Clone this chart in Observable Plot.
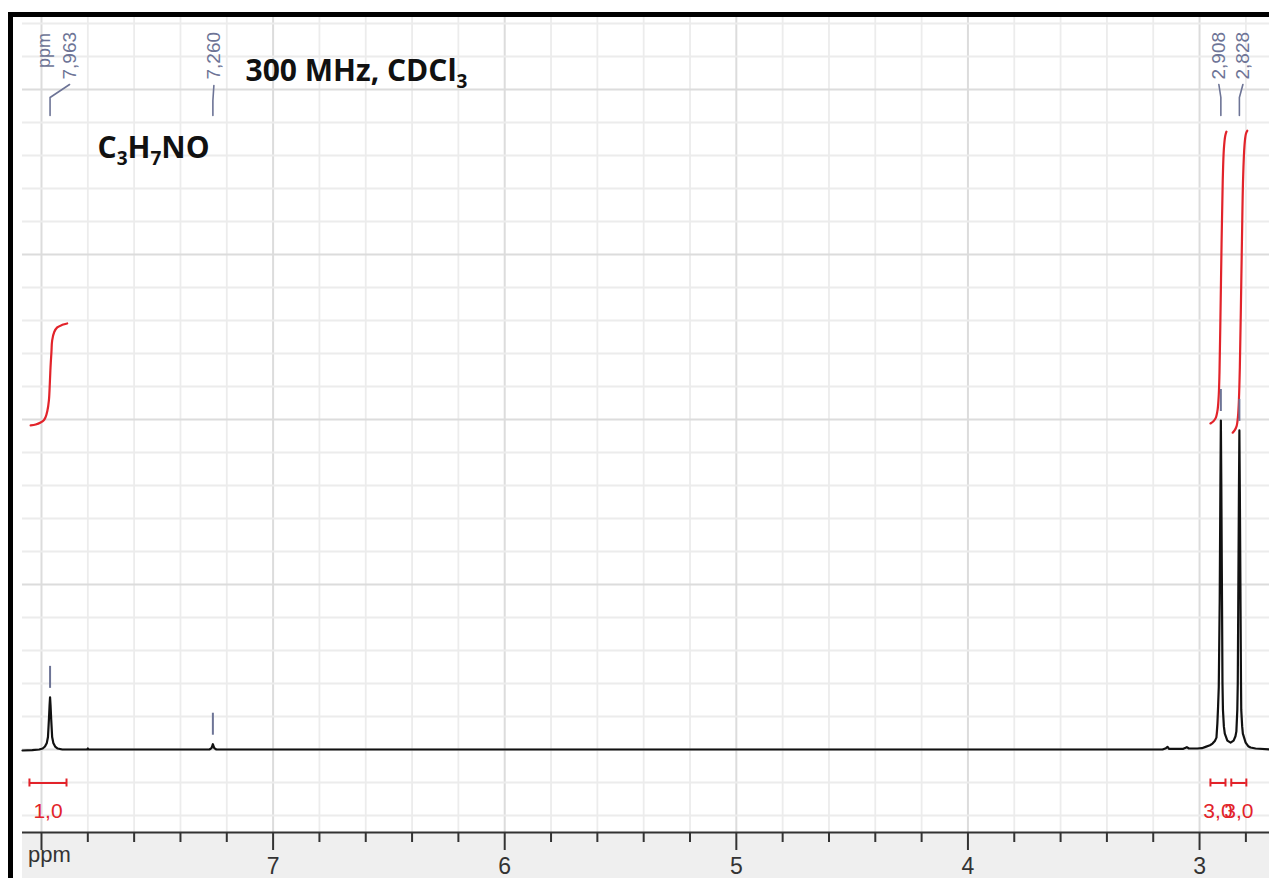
<!DOCTYPE html>
<html>
<head>
<meta charset="utf-8">
<script src="https://cdn.jsdelivr.net/npm/d3@7"></script>
<script src="https://cdn.jsdelivr.net/npm/@observablehq/plot@0.6"></script>
<style>
html, body { margin: 0; padding: 0; background: #fff; overflow: hidden; }
#wrap { position: relative; width: 1269px; height: 878px; overflow: hidden; }
#band { position: absolute; left: 22px; top: 832px; width: 1247px; height: 46px; background: #efefef; }
#chart { position: absolute; left: 0; top: 0; }
#frame { position: absolute; left: 8px; top: 12px; width: 1400px; height: 1000px;
  border-left: 5px solid #000; border-top: 5px solid #000; pointer-events: none; }
</style>
</head>
<body>
<div id="wrap"><div id="band"></div><div id="chart"></div><div id="frame"></div></div>
<script>
// ---------------- data ----------------
// spectrum: chemical shift (ppm) and intensity (grid units above baseline)
const spectrumPpm = [8.082, 8.040, 8.010, 7.995, 7.985, 7.977, 7.972, 7.968, 7.965, 7.963, 7.961, 7.958, 7.954, 7.949, 7.941, 7.930, 7.910,
  7.803, 7.800, 7.797,
  7.275, 7.266, 7.262, 7.260, 7.258, 7.254, 7.245,
  3.160, 3.145, 3.138, 3.132, 3.070, 3.055, 3.046, 3.010, 2.990, 2.974, 2.955, 2.944, 2.934, 2.927, 2.923, 2.920, 2.917, 2.913, 2.910,
  2.908, 2.906, 2.903, 2.901, 2.899, 2.895, 2.891, 2.880, 2.866, 2.853, 2.845, 2.841, 2.837, 2.835, 2.833, 2.830,
  2.828, 2.826, 2.823, 2.821, 2.820, 2.816, 2.813, 2.801, 2.790, 2.780, 2.758, 2.698];
const spectrumIntensity = [-0.03, -0.02, 0.0, 0.03, 0.09, 0.2, 0.38, 0.9, 1.35, 1.58, 1.35, 0.9, 0.38, 0.2, 0.09, 0.03, 0.0,
  0.0, 0.03, 0.0,
  0.0, 0.04, 0.12, 0.16, 0.12, 0.04, 0.0,
  0.0, 0.04, 0.08, 0.02, 0.02, 0.07, 0.03, 0.03, 0.04, 0.08, 0.13, 0.18, 0.26, 0.36, 0.8, 1.3, 1.9, 4.5, 8.0,
  9.97, 8.0, 4.5, 2.0, 1.2, 0.7, 0.48, 0.27, 0.21, 0.27, 0.4, 0.55, 1.2, 2.0, 4.3, 7.8,
  9.67, 7.8, 4.3, 2.0, 1.2, 0.7, 0.48, 0.21, 0.1, 0.06, 0.03, 0.0];

// picked peaks
const peakPpm = [7.963, 7.260, 2.908, 2.828];
const peakLabels = ["7,963", "7,260", "2,908", "2,828"];
const peakHeight = [1.58, 0.16, 9.97, 9.67];

// integration curves
const integralAPpm = [8.047, 8.025, 8.004, 7.990, 7.983, 7.975, 7.968, 7.964, 7.961, 7.957, 7.954, 7.945, 7.932, 7.910, 7.889];
const integralAValue = [9.82, 9.85, 9.91, 9.98, 10.06, 10.25, 10.58, 11.1, 11.58, 12.05, 12.39, 12.65, 12.79, 12.87, 12.91];
const integralBPpm = [2.953, 2.940, 2.930, 2.922, 2.917, 2.914, 2.910, 2.905, 2.900, 2.895, 2.889, 2.884];
const integralBValue = [9.88, 9.95, 10.05, 10.3, 10.75, 11.4, 13.0, 15.3, 17.2, 18.2, 18.6, 18.72];
const integralCPpm = [2.857, 2.848, 2.840, 2.834, 2.830, 2.826, 2.822, 2.817, 2.812, 2.806, 2.800, 2.794];
const integralCValue = [9.6, 9.68, 9.8, 10.1, 10.6, 11.6, 13.2, 15.4, 17.3, 18.3, 18.65, 18.75];

// integration ranges and values
const rangeFrom = [8.052, 2.953, 2.863];
const rangeTo = [7.892, 2.888, 2.798];
const rangeValues = ["1,0", "3,0", "3,0"];

// axis ticks and grid
const majorTicks = [8, 7, 6, 5, 4, 3];
const minorTicks = [7.8, 7.6, 7.4, 7.2, 6.8, 6.6, 6.4, 6.2, 5.8, 5.6, 5.4, 5.2, 4.8, 4.6, 4.4, 4.2, 3.8, 3.6, 3.4, 3.2, 2.8];
const gridRowsMinor = [-2, -1, 1, 2, 3, 4, 6, 7, 8, 9, 11, 12, 13, 14, 16, 17, 18, 19, 21, 22];
const gridRowsMajor = [0, 5, 10, 15, 20];

const titleText = "300 MHz, CDCl_3";
const formulaText = "C_3H_7NO";

// ---------------- layout ----------------
const W = 1269, H = 878;
const X0 = 8.082, X1 = 2.698;          // ppm at left / right plot edges
const plotLeft = 22;
const ppmPerPx = (X0 - X1) / (W - plotLeft);
const baselinePx = 749, unitPx = 33;
const Y0 = -(832 - baselinePx) / unitPx, Y1 = (baselinePx - 16) / unitPx;
const px2ppm = px => X0 - (px - plotLeft) * ppmPerPx;
const py2y = py => (baselinePx - py) / unitPx;

const red = "#e2232a", slate = "#6d7496";

const spectrum = spectrumPpm.map((p, i) => ({ppm: p, v: spectrumIntensity[i]}));
const peaks = peakPpm.map((p, i) => ({ppm: p, label: peakLabels[i], h: peakHeight[i]}));
const integrals = [
  ...integralAPpm.map((p, i) => ({g: "A", ppm: p, v: integralAValue[i]})),
  ...integralBPpm.map((p, i) => ({g: "B", ppm: p, v: integralBValue[i]})),
  ...integralCPpm.map((p, i) => ({g: "C", ppm: p, v: integralCValue[i]}))
];
const ranges = rangeFrom.map((f, i) => ({from: f, to: rangeTo[i], label: rangeValues[i]}));

// label offsets (px) of the rotated peak labels relative to their peaks
const labelShiftPx = [19.5, 1, -2, 3.5];
const leaders = [];
peaks.forEach((d, i) => {
  const lx = d.ppm - labelShiftPx[i] * ppmPerPx;
  leaders.push({k: i, ppm: d.ppm, y: py2y(115)});
  leaders.push({k: i, ppm: d.ppm, y: py2y(i === 1 ? 100 : 97)});
  leaders.push({k: i, ppm: lx, y: py2y(i === 1 ? 85 : 84)});
  d.lx = lx;
});
const barY = py2y(782.5);
const capH = 4 / unitPx;

const chart = Plot.plot({
  width: W, height: H,
  marginLeft: plotLeft, marginRight: 0, marginTop: 16, marginBottom: H - 832,
  style: {background: "transparent", overflow: "visible", fontFamily: "Liberation Sans, Arial, sans-serif", color: "#333"},
  x: {domain: [X0, X1]},
  y: {domain: [Y0, Y1], axis: null},
  marks: [
    Plot.ruleX(minorTicks.concat([2.6]).filter(d => d > X1), {stroke: "#ececec", strokeWidth: 1.8}),
    Plot.ruleX(majorTicks, {stroke: "#dcdcdc", strokeWidth: 2}),
    Plot.ruleY(gridRowsMinor, {stroke: "#ececec", strokeWidth: 1.8}),
    Plot.ruleY(gridRowsMajor, {stroke: "#dcdcdc", strokeWidth: 2}),
    Plot.ruleY([Y0], {stroke: "#333", strokeWidth: 2}),
    Plot.axisX(majorTicks, {tickSize: 18, tickPadding: 7, strokeWidth: 2, stroke: "#333",
      tickFormat: d => d === 8 ? "" : String(d), fontSize: 23, label: null}),
    Plot.axisX(minorTicks, {tickSize: 10, strokeWidth: 2, stroke: "#333", tickFormat: () => "", label: null}),
    Plot.text(["ppm"], {x: px2ppm(49), y: py2y(861), text: d => d, lineAnchor: "bottom", fontSize: 22, fill: "#333"}),
    // spectrum
    Plot.line(spectrum, {x: "ppm", y: "v", stroke: "#111", strokeWidth: 2.2, strokeLinejoin: "round"}),
    // integrals
    Plot.line(integrals, {x: "ppm", y: "v", z: "g", stroke: red, strokeWidth: 2.2, curve: "catmull-rom"}),
    Plot.ruleY(ranges, {y: barY, x1: "from", x2: "to", stroke: red, strokeWidth: 2}),
    Plot.ruleX(ranges, {x: "from", y1: barY - capH, y2: barY + capH, stroke: red, strokeWidth: 2}),
    Plot.ruleX(ranges, {x: "to", y1: barY - capH, y2: barY + capH, stroke: red, strokeWidth: 2}),
    Plot.text(ranges, {x: d => (d.from + d.to) / 2, y: py2y(817), text: "label", lineAnchor: "bottom",
      fill: red, fontSize: 21}),
    // peak picking
    Plot.ruleX(peaks, {x: "ppm", y1: d => d.h + 9 / unitPx, y2: d => d.h + 31 / unitPx, stroke: slate, strokeWidth: 2}),
    Plot.line(leaders, {x: "ppm", y: "y", z: "k", stroke: slate, strokeWidth: 1.6}),
    Plot.text(peaks, {x: "lx", y: py2y(79), text: "label", rotate: -90, textAnchor: "start",
      fill: slate, fontSize: 19}),
    Plot.text(["ppm"], {x: px2ppm(43.5), y: py2y(50), text: d => d, rotate: -90, fill: slate, fontSize: 18}),
    // annotations
    Plot.text([titleText], {x: px2ppm(245), y: py2y(80), text: d => d, textAnchor: "start", lineAnchor: "bottom",
      fontSize: 30, fontWeight: 700, fontFamily: "Open Sans", fill: "#111"}),
    Plot.text([formulaText], {x: px2ppm(97), y: py2y(157), text: d => d, textAnchor: "start", lineAnchor: "bottom",
      fontSize: 30, fontWeight: 700, fontFamily: "Open Sans", fill: "#111"})
  ]
});

// render "_n" as subscripts
chart.querySelectorAll("text").forEach(t => {
  const s = t.textContent;
  if (!s.includes("_")) return;
  while (t.firstChild) t.removeChild(t.firstChild);
  let down = false;
  s.split(/(_\d)/).forEach(part => {
    if (!part) return;
    const ts = document.createElementNS("http://www.w3.org/2000/svg", "tspan");
    if (part.startsWith("_")) {
      ts.textContent = part.slice(1);
      ts.setAttribute("font-size", "19");
      ts.setAttribute("dy", "7");
      down = true;
    } else {
      ts.textContent = part;
      if (down) { ts.setAttribute("dy", "-7"); down = false; }
    }
    t.appendChild(ts);
  });
});

document.getElementById("chart").appendChild(chart);
</script>
</body>
</html>
